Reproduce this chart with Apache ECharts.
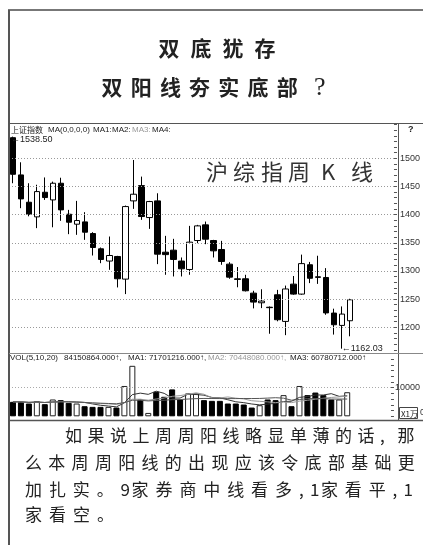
<!DOCTYPE html>
<html><head><meta charset="utf-8">
<script src="https://cdn.jsdelivr.net/npm/echarts@6/dist/echarts.min.js"></script>
<style>html,body{margin:0;padding:0;background:#fff}#c{width:423px;height:545px}</style>
</head><body><div id="c"></div>
<script>
// ---- data (weekly candles of the Shanghai Composite) ----
const weeks = ['1','2','3','4','5','6','7','8','9','10','11','12','13','14','15','16','17','18','19','20','21','22','23','24','25','26','27','28','29','30','31','32','33','34','35','36','37','38','39','40','41','42','43'];
const opens  = [1536.6,1470.5,1422.0,1396.0,1439.7,1426.1,1455.7,1400.7,1383.0,1387.1,1366.4,1339.3,1317.6,1325.7,1285.5,1424.4,1451.5,1394.8,1424.4,1333.3,1336.9,1317.6,1302.6,1354.0,1381.8,1354.0,1338.1,1312.1,1286.0,1286.1,1260.6,1243.5,1235.6,1257.7,1210.4,1276.6,1258.9,1311.0,1289.6,1288.4,1225.2,1203.3,1211.6];
const closes = [1471.6,1427.9,1400.7,1440.9,1430.3,1455.7,1408.4,1386.5,1389.5,1368.8,1341.6,1320.4,1327.4,1286.1,1414.3,1436.2,1396.6,1423.2,1329.8,1329.0,1320.4,1303.8,1351.1,1380.0,1356.4,1335.7,1316.8,1289.0,1285.0,1264.8,1244.7,1246.5,1234.8,1213.4,1268.0,1258.9,1313.0,1287.0,1288.6,1225.5,1204.5,1223.4,1248.8];
const lows   = [1455.7,1411.4,1397.0,1376.0,1426.1,1377.5,1389.0,1365.3,1364.1,1355.2,1327.4,1313.8,1302.0,1270.7,1258.9,1410.2,1390.7,1374.7,1312.1,1293.2,1290.2,1290.2,1293.2,1349.3,1347.5,1323.9,1310.9,1286.1,1271.0,1263.6,1233.5,1234.0,1188.5,1210.6,1186.0,1257.7,1257.7,1278.4,1277.0,1222.2,1187.0,1162.03,1184.0];
const highs  = [1538.5,1492.9,1455.7,1453.0,1466.0,1458.6,1465.5,1408.4,1424.4,1404.3,1368.8,1341.6,1361.1,1326.8,1416.1,1497.0,1467.5,1424.4,1437.9,1362.3,1357.0,1323.9,1380.0,1381.8,1387.7,1355.2,1353.4,1315.6,1307.0,1293.2,1264.8,1267.5,1237.0,1266.4,1274.0,1291.0,1329.0,1316.0,1327.0,1305.0,1233.0,1237.0,1250.6];
// weekly volume, unit: 10,000 (x1万)
const volumes = [5060,5060,4470,5300,4240,5880,5650,4700,4470,3530,3300,3300,3300,3060,10600,17650,5880,1180,8600,6820,9400,5880,8000,8000,5650,5400,5400,4470,4470,4120,3060,3880,5880,5650,7400,3530,10600,7400,8300,7400,5880,5880,8415];
const priceTickLabels = [1200,1250,1300,1350,1400,1450,1500];
const volTickLabels = [10000];
const maxLabel = '1538.50';
const minLabel = '1162.03';
const padWeeks = ['p1','p2','p3','p4','p5']; // empty space right of the last week

// ---- build ----
const cats = weeks.concat(padWeeks);
const candleData = opens.map((o,i)=>[o, closes[i], lows[i], highs[i]]);
const isUp = closes.map((c,i)=>c >= opens[i]);
const volData = volumes.map((v,i)=>({value:v, itemStyle: isUp[i]
  ? {color:'#fff', borderColor:'#222', borderWidth:1}
  : {color:'#000', borderColor:'#000', borderWidth:1}}));
function ma(n){
  return volumes.map((v,i)=>{const s=Math.max(0,i-n+1);let t=0;for(let k=s;k<=i;k++)t+=volumes[k];return Math.round(t/(i-s+1));});
}
const hiIdx = highs.indexOf(Math.max(...highs));
const loIdx = lows.indexOf(Math.min(...lows));

function txt(x,y,s,o){
  return {type:'text', x:x, y:y, silent:true, z:100,
    style:Object.assign({text:s, fill:'#222', font:'8px "Liberation Sans"', align:'left', textAlign:'left', verticalAlign:'middle', textVerticalAlign:'middle'}, o||{})};
}
function row(str, x0, y, pitch, narrow, font, fill){
  const out=[]; let x=x0;
  for(const ch of str){ const n=/[\x00-\x7f]/.test(ch); out.push(txt(x,y,ch,{font:font, fill:fill})); x += n ? narrow : pitch; }
  return out;
}
function centered(chars, xs, y, font, fill){
  return chars.map((c,i)=>txt(xs[i], y, c, {font:font, fill:fill, align:'center', textAlign:'center'}));
}
function ln(x1,y1,x2,y2,c,w){ return {type:'line', silent:true, z:90, shape:{x1:x1,y1:y1,x2:x2,y2:y2}, style:{stroke:c, lineWidth:w}}; }

const cjk = '"Noto Sans CJK SC"';
const graphics = [
  ln(8,10,423,10,'#777',2),
  ln(9,10,9,545,'#555',2),
  ln(9,123.5,423,123.5,'#555',1),
  ln(398.5,123,398.5,420,'#555',1),
  ln(9,353.5,423,353.5,'#888',1),
  ln(9,420.5,423,420.5,'#555',1.5),
  {type:'rect', silent:true, z:90, shape:{x:399.5,y:407.5,width:18,height:11}, style:{fill:'#fff', stroke:'#444', lineWidth:1}},
  txt(401,413.5,'X1万',{font:'8px '+cjk, fill:'#222'}),
  txt(420,413,'0',{font:'9px "Liberation Sans"', fill:'#333'}),
  txt(408,130,'?',{font:'bold 9px "Liberation Sans"', fill:'#222'}),
  // legend of the price panel
  txt(11,129.5,'上证指数',{font:'8px '+cjk}),
  txt(48,129.5,'MA(0,0,0,0)'),
  txt(93,129.5,'MA1:'),
  txt(112,129.5,'MA2:'),
  txt(132,129.5,'MA3:',{fill:'#999'}),
  txt(152,129.5,'MA4:'),
  // legend of the volume panel
  txt(10,357.5,'VOL(5,10,20)'),
  txt(64,357.5,'84150864.000↑,'),
  txt(128,357.5,'MA1: 71701216.000↑,'),
  txt(208,357.5,'MA2: 70448080.000↑,',{fill:'#999'}),
  txt(290,357.5,'MA3: 60780712.000↑')
]
.concat(row('双底犹存',158.5,48.5,32,10,'bold 21px '+cjk,'#222'))
.concat(row('双阳线夯实底部',101.5,87.5,29.2,10,'bold 21px '+cjk,'#222'))
.concat([txt(314,88,'?',{font:'26px "Liberation Serif"', fill:'#222'})])
.concat(centered(['沪','综','指','周','K','线'],[217,244,272,299,328,362],172,'22px '+cjk,'#333'))
.concat(row('如果说上周周阳线略显单薄的话,那',65,435.5,22.5,17.5,'17px '+cjk,'#222'))
.concat(row('么本周周阳线的出现应该令底部基础更',25,462.5,23.3,10,'17px '+cjk,'#222'))
.concat(row('加扎实。9家券商中线看多,1家看平,1',25,489.5,23.9,11,'17px '+cjk,'#222'))
.concat(row('家看空。',25,515,24,10,'17px '+cjk,'#222'));

const chart = echarts.init(document.getElementById('c'));
chart.setOption({
  animation:false,
  backgroundColor:'#fff',
  textStyle:{fontFamily:'Liberation Sans'},
  grid:[
    {left:9, right:25, top:124.5, height:225.3},
    {left:9, right:25, top:359.1, height:57.2}
  ],
  xAxis:[
    {type:'category', gridIndex:0, data:cats, boundaryGap:true, show:false},
    {type:'category', gridIndex:1, data:cats, boundaryGap:true, show:false}
  ],
  yAxis:[
    {type:'value', gridIndex:0, position:'right', min:1160, max:1560, interval:10, scale:true,
     axisLine:{show:false}, splitLine:{show:false},
     axisTick:{show:true, length:3, lineStyle:{color:'#555', width:1}},
     axisLabel:{show:true, margin:6, fontSize:9, color:'#333',
       formatter:v=>priceTickLabels.indexOf(Math.round(v))>=0 ? String(Math.round(v)) : ''}},
    {type:'value', gridIndex:1, position:'right', min:0, max:20000, interval:2000,
     axisLine:{show:false}, splitLine:{show:false},
     axisTick:{show:true, length:3, lineStyle:{color:'#555', width:1}},
     axisLabel:{show:true, margin:4, fontSize:9, color:'#333',
       formatter:v=>volTickLabels.indexOf(Math.round(v))>=0 ? String(Math.round(v)) : ''}}
  ],
  series:[
    {type:'candlestick', xAxisIndex:0, yAxisIndex:0, data:candleData, barWidth:6,
     itemStyle:{color:'#fff', color0:'#000', borderColor:'#000', borderColor0:'#000', borderWidth:1},
     markLine:{silent:true, symbol:['none','none'], label:{show:false},
       lineStyle:{type:[1,2], color:'#999', width:1},
       data:priceTickLabels.map(v=>({yAxis:v}))},
     markPoint:{silent:true, symbol:'circle', symbolSize:0,
       label:{show:true, position:'right', distance:0, fontSize:9, color:'#222', fontFamily:'Liberation Sans'},
       data:[
         {coord:[weeks[hiIdx], highs[hiIdx]], value:maxLabel, label:{formatter:'←'+maxLabel, offset:[-2,3]}},
         {coord:[weeks[loIdx], lows[loIdx]], value:minLabel, label:{formatter:'←'+minLabel, offset:[0,0]}}
       ]}
    },
    {type:'bar', xAxisIndex:1, yAxisIndex:1, data:volData, barWidth:6, z:2,
     markLine:{silent:true, symbol:['none','none'], label:{show:false},
       lineStyle:{type:[1,2], color:'#aaa', width:1},
       data:volTickLabels.map(v=>({yAxis:v}))}},
    {type:'line', xAxisIndex:1, yAxisIndex:1, data:ma(5), showSymbol:false, z:3, lineStyle:{color:'#333', width:1}},
    {type:'line', xAxisIndex:1, yAxisIndex:1, data:ma(10), showSymbol:false, z:3, lineStyle:{color:'#999', width:1}},
    {type:'line', xAxisIndex:1, yAxisIndex:1, data:ma(20), showSymbol:false, z:3, lineStyle:{color:'#555', width:1}}
  ],
  graphic:graphics
});
</script>
</body></html>
